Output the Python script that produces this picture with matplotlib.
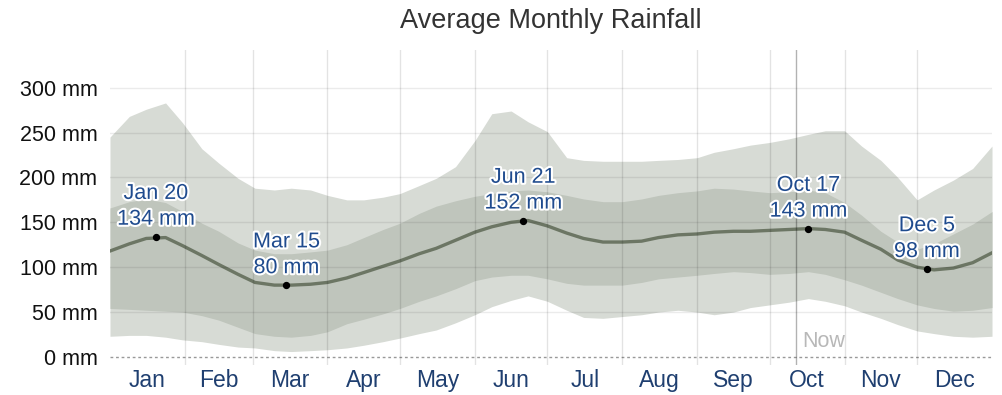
import matplotlib
matplotlib.use("Agg")
from matplotlib import pyplot as plt
import matplotlib.patheffects as pe
import numpy as np

plt.rcParams['font.family'] = ['Liberation Sans', 'DejaVu Sans']

# day of year (0 = Jan 1) at which the curves were read
days = [0, 8, 15, 23, 30, 38, 45, 53, 60, 68, 75, 83, 90, 98, 105, 113, 120, 128, 135, 143,
        151, 158, 166, 173, 181, 189, 196, 204, 212, 220, 227, 235, 243, 250, 258, 265, 273,
        281, 289, 296, 304, 311, 319, 326, 334, 341, 349, 357, 365]

median = [118, 126, 132, 133, 124, 113, 103, 92, 83, 80, 80, 81, 83, 88, 94, 101, 107, 115, 121, 130,
          139, 145, 150, 152, 146, 138, 132, 128, 128, 129, 133, 136, 137, 139, 140, 140, 141,
          142, 143, 142, 139, 130, 120, 108, 100, 97, 99, 105, 116]

p25 = [54, 53, 52, 51, 50, 46, 41, 33, 26, 23, 22, 24, 28, 37, 42, 48, 54, 62, 68, 76,
       85, 89, 91, 91, 87, 82, 80, 80, 80, 83, 87, 89, 91, 93, 95, 94, 92,
       93, 95, 92, 86, 80, 72, 65, 58, 54, 51, 52, 55]

p75 = [166, 173, 176, 172, 162, 149, 140, 127, 119, 115, 115, 117, 119, 125, 133, 142, 149, 160, 168, 174,
       179, 182, 185, 186, 184, 180, 176, 173, 173, 176, 180, 183, 185, 188, 187, 185, 183,
       184, 186, 183, 172, 158, 140, 128, 120, 126, 137, 148, 162]

p10 = [23, 24, 24, 22, 19, 17, 14, 11, 10, 7, 6, 7, 8, 10, 13, 17, 21, 26, 30, 38,
       47, 56, 63, 68, 62, 52, 44, 43, 45, 47, 50, 52, 50, 47, 50, 55, 58,
       61, 65, 62, 57, 50, 43, 36, 29, 26, 23, 22, 23]

p90 = [245, 268, 276, 283, 261, 232, 216, 199, 188, 186, 188, 186, 180, 175, 175, 178, 182, 191, 199, 212,
       241, 271, 274, 262, 251, 222, 219, 218, 218, 218, 219, 220, 222, 228, 232, 236, 239,
       243, 248, 252, 252, 235, 219, 200, 175, 186, 197, 210, 235]

# highlighted points
peak_days = [19, 73, 171, 289, 338]
peak_vals = [134, 80, 152, 143, 98]
peak_names = ['Jan 20', 'Mar 15', 'Jun 21', 'Oct 17', 'Dec 5']

months = ['Jan', 'Feb', 'Mar', 'Apr', 'May', 'Jun', 'Jul', 'Aug', 'Sep', 'Oct', 'Nov', 'Dec']
month_len = [31, 28, 31, 30, 31, 30, 31, 31, 30, 31, 30, 31]
yticks = [0, 50, 100, 150, 200, 250, 300]
now_day = 284

month_start = np.concatenate([[0], np.cumsum(month_len)[:-1]])
month_mid = month_start + np.array(month_len) / 2

fig = plt.figure(figsize=(10.03, 3.95), dpi=100)
ax = fig.add_axes([110 / 1003, 30 / 395, 882 / 1003, 315 / 395])

ax.fill_between(days, p10, p90, color='#d7dbd5', lw=0, zorder=1)
ax.fill_between(days, p25, p75, color='#bfc5bc', lw=0, zorder=2)
ax.plot(days, median, color='#6c7664', lw=2.4, zorder=3)

# grid on top so it shows through the bands
for y in yticks[1:]:
    ax.axhline(y, color='black', alpha=0.08, lw=1, zorder=4)
ax.axhline(0, color='#999999', lw=1, ls=(0, (2, 2)), zorder=4)
for d in month_start[1:]:
    ax.axvline(d, color='black', alpha=0.11, lw=1, zorder=4)
ax.axvline(now_day, color='black', alpha=0.3, lw=1, zorder=4)
ax.text(now_day + 2.5, 5, 'Now', color='#b8b8b8', fontsize=15.5, ha='left', va='bottom', zorder=5)

ax.scatter(peak_days, peak_vals, s=18, color='black', zorder=6)
halo = [pe.withStroke(linewidth=3, foreground='white')]
for d, v, n in zip(peak_days, peak_vals, peak_names):
    ax.annotate(f'{n}\n{v} mm', (d, v), xytext=(0, 5), textcoords='offset points',
                ha='center', va='bottom', fontsize=15.5, color='#1f4b8e', linespacing=1.3,
                path_effects=halo, zorder=7)

ax.set_xlim(0, 365)
ax.set_ylim(-9, 342)
ax.set_yticks(yticks)
ax.set_yticklabels([f'{y} mm' for y in yticks], fontsize=15.5, color='#111111')
ax.set_xticks(month_mid)
ax.set_xticklabels(months, fontsize=16.5, color='#1f3f70')
ax.tick_params(length=0)
ax.tick_params(axis='y', pad=9)
ax.tick_params(axis='x', pad=3)
for s in ax.spines.values():
    s.set_visible(False)

fig.text(551 / 1003, 1 - 21 / 395, 'Average Monthly Rainfall', ha='center', va='center',
         fontsize=19.5, color='#333333')

plt.savefig('out.png', dpi=100)
